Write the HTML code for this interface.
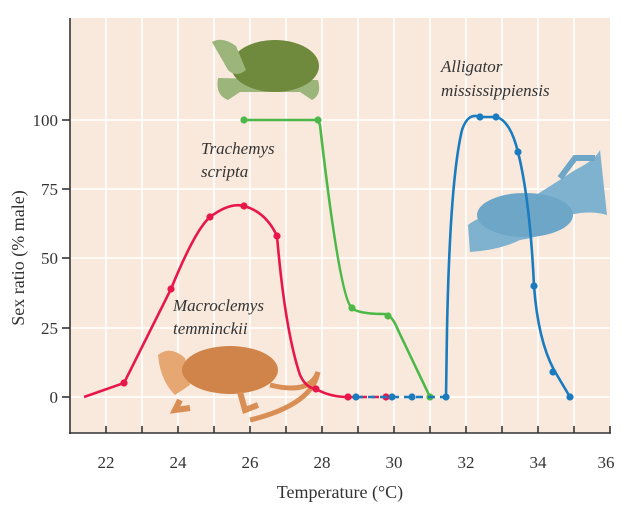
<!DOCTYPE html>
<html><head><meta charset="utf-8"><style>
html,body{margin:0;padding:0;background:#fff}
svg{display:block;font-family:"Liberation Serif",serif}
</style></head><body>
<svg width="632" height="518" viewBox="0 0 632 518">
<rect x="70" y="18" width="540" height="415" fill="#f9e9dd"/>
<g stroke="#fff" stroke-width="1.6">
<line x1="70" x2="610" y1="120" y2="120"/><line x1="70" x2="610" y1="189" y2="189"/>
<line x1="70" x2="610" y1="258" y2="258"/><line x1="70" x2="610" y1="328" y2="328"/>
<line x1="70" x2="610" y1="397" y2="397"/>
<line x1="106" x2="106" y1="18" y2="433"/><line x1="142" x2="142" y1="18" y2="433"/>
<line x1="178" x2="178" y1="18" y2="433"/><line x1="214" x2="214" y1="18" y2="433"/>
<line x1="250" x2="250" y1="18" y2="433"/><line x1="286" x2="286" y1="18" y2="433"/>
<line x1="322" x2="322" y1="18" y2="433"/><line x1="358" x2="358" y1="18" y2="433"/>
<line x1="394" x2="394" y1="18" y2="433"/><line x1="430" x2="430" y1="18" y2="433"/>
<line x1="466" x2="466" y1="18" y2="433"/><line x1="502" x2="502" y1="18" y2="433"/>
<line x1="538" x2="538" y1="18" y2="433"/><line x1="574" x2="574" y1="18" y2="433"/>
</g>
<g stroke="#333" stroke-width="1.6" fill="none">
<line x1="70" y1="18" x2="70" y2="434"/><line x1="69" y1="433" x2="611" y2="433"/>
<line x1="62" x2="70" y1="120" y2="120"/><line x1="62" x2="70" y1="189" y2="189"/>
<line x1="62" x2="70" y1="258" y2="258"/><line x1="62" x2="70" y1="328" y2="328"/>
<line x1="62" x2="70" y1="397" y2="397"/>
<path d="M106 433v-7M142 433v-7M178 433v-7M214 433v-7M250 433v-7M286 433v-7M322 433v-7M358 433v-7M394 433v-7M430 433v-7M466 433v-7M502 433v-7M538 433v-7M574 433v-7M610 433v-7"/>
</g>
<g font-size="17" fill="#333" text-anchor="end">
<text x="58" y="126">100</text><text x="58" y="195">75</text><text x="58" y="264">50</text>
<text x="58" y="334">25</text><text x="58" y="403">0</text>
</g>
<g font-size="17" fill="#333" text-anchor="middle">
<text x="106" y="468">22</text><text x="178" y="468">24</text><text x="250" y="468">26</text>
<text x="322" y="468">28</text><text x="394" y="468">30</text><text x="466" y="468">32</text>
<text x="538" y="468">34</text><text x="606" y="468">36</text>
<text x="340" y="498" font-size="18">Temperature (°C)</text>
<text transform="translate(24,258) rotate(-90)" font-size="18">Sex ratio (% male)</text>
</g>
<!-- animals approximations -->
<g>
<path d="M218 78 Q215 95 228 100 L240 92 L300 92 L312 100 Q322 95 318 80 Z" fill="#9bb57a"/>
<ellipse cx="275" cy="66" rx="44" ry="26" fill="#6f8a3c"/>
<path d="M212 42 Q222 36 236 46 L246 70 Q236 78 228 70 Z" fill="#9bb57a"/>
<path d="M158 355 Q170 345 185 358 L190 385 L175 395 Q160 380 158 355 Z" fill="#e7a772"/>
<ellipse cx="230" cy="370" rx="48" ry="24" fill="#d0844a"/>
<path d="M180 400 L175 410 L190 408 M240 392 L245 410 L258 405" stroke="#d98e55" stroke-width="6" fill="none"/>
<path d="M270 385 Q310 395 318 372 Q312 405 250 420" stroke="#d98e55" stroke-width="5" fill="none"/>
<path d="M468 225 Q480 215 520 205 Q560 180 575 170 Q595 160 600 150 L607 215 Q590 210 570 215 Q555 235 520 240 Q500 250 470 252 Z" fill="#7fb2cf"/>
<ellipse cx="525" cy="215" rx="48" ry="22" fill="#6ea6c7"/>
<path d="M560 178 L575 158 L595 158" stroke="#6ea6c7" stroke-width="6" fill="none"/>
</g>
<g font-style="italic" font-size="17" fill="#333">
<text x="201" y="154">Trachemys</text><text x="201" y="177">scripta</text>
<text x="173" y="311">Macroclemys</text><text x="173" y="334">temminckii</text>
<text x="441" y="72">Alligator</text><text x="441" y="96">mississippiensis</text>
</g>
<!-- red -->
<path d="M84 397 L124 383 L171 289 Q195 230 210 217 Q230 202 244 206 Q266 212 277 236 Q285 330 300 375 Q306 388 316 389 Q330 397 348 397" stroke="#e8174a" stroke-width="2.6" fill="none"/>
<path d="M348 397 H387" stroke="#e8174a" stroke-width="2.6" stroke-dasharray="7 5"/>
<g fill="#e8174a"><circle cx="124" cy="383" r="3.6"/><circle cx="171" cy="289" r="3.6"/><circle cx="210" cy="217" r="3.6"/><circle cx="244" cy="206" r="3.6"/><circle cx="277" cy="236" r="3.6"/><circle cx="316" cy="389" r="3.6"/><circle cx="348" cy="397" r="3.6"/><circle cx="386" cy="397" r="3.6"/></g>
<!-- green -->
<path d="M244 120 H318 L320 125 Q340 300 352 308 Q358 314 385 314 Q392 315 398 330 L430 397" stroke="#4cb848" stroke-width="2.6" fill="none"/>
<g fill="#4cb848"><circle cx="244" cy="120" r="3.6"/><circle cx="318" cy="120" r="3.6"/><circle cx="352" cy="308" r="3.6"/><circle cx="388" cy="316" r="3.6"/><circle cx="430" cy="397" r="3.6"/></g>
<!-- blue -->
<path d="M356 397 H446" stroke="#1a7bbf" stroke-width="2.6" stroke-dasharray="7 5"/>
<path d="M446 397 L447 330 Q450 180 462 130 Q468 112 480 117 L496 117 Q510 120 518 152 Q530 200 534 286 Q538 340 554 370 L570 397" stroke="#1a7bbf" stroke-width="2.6" fill="none"/>
<g fill="#1a7bbf"><circle cx="356" cy="397" r="3.6"/><circle cx="392" cy="397" r="3.6"/><circle cx="412" cy="397" r="3.6"/><circle cx="446" cy="397" r="3.6"/><circle cx="480" cy="117" r="3.6"/><circle cx="496" cy="117" r="3.6"/><circle cx="518" cy="152" r="3.6"/><circle cx="534" cy="286" r="3.6"/><circle cx="553" cy="372" r="3.6"/><circle cx="570" cy="397" r="3.6"/></g>
</svg>
</body></html>
